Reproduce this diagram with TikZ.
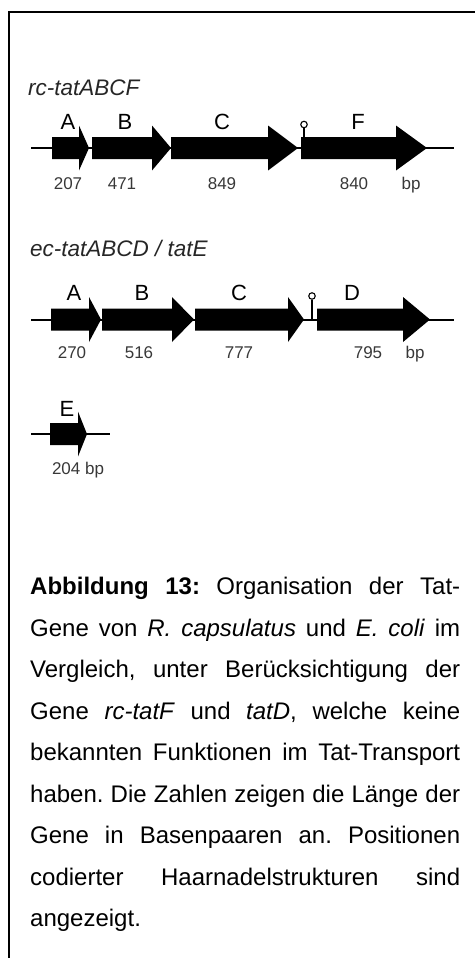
\documentclass[tikz,border=0pt]{standalone}
\usepackage{fontspec}
\setmainfont{Liberation Sans}
\newcommand{\genearrow}[5]{% #1 name, #2 body start, #3 head start, #4 tip, #5 axis y
  \fill[genefill] (#2,#5-11) -- (#3,#5-11) -- (#3,#5-22.5) -- (#4,#5) -- (#3,#5+22.5) -- (#3,#5+11) -- (#2,#5+11) -- cycle;
  \coordinate (#1) at (#2,#5);}
\begin{document}
\begin{tikzpicture}[x=1pt,y=-1pt,
  genefill/.style={fill=black},
  backbone/.style={line width=2pt},
  frame/.style={line width=2pt, line join=miter},
  glabel/.style={font=\fontsize{22}{22}\selectfont, inner sep=0pt, anchor=base},
  numlabel/.style={font=\fontsize{17}{17}\selectfont, text=black!78, inner sep=0pt, anchor=base},
  titlelabel/.style={font=\fontsize{22.5}{22.5}\selectfont\itshape, anchor=base west, inner sep=0pt, text=black!85},
  hairstem/.style={line width=1.3pt},
  hairloop/.style={line width=1.1pt, draw=black, fill=white}]
\useasboundingbox (0,0) rectangle (474,958);
\draw[frame] (9,958) -- (9,12) -- (475,12);

% ---------- row 1: rc-tatABCF ----------
\node[titlelabel] (t1) at (28,95) {rc-tatABCF};
\coordinate (r1s) at (31,148);
\coordinate (r1e) at (454,148);
\draw[backbone] (r1s) -- (r1e);
\genearrow{g1a}{52}{79}{89}{148}
\genearrow{g1b}{92}{152}{171}{148}
\genearrow{g1c}{171}{268}{298}{148}
\genearrow{g1f}{301}{396}{427}{148}
\coordinate (h1b) at (304,137);
\node[circle, hairloop, minimum size=6.5pt, inner sep=0pt] (h1) at (304,124.5) {};
\draw[hairstem] (h1b) -- (h1.south);
\node[glabel] (l1a) at (68,129) {A};
\node[glabel] (l1b) at (125,129) {B};
\node[glabel] (l1c) at (222,129) {C};
\node[glabel] (l1f) at (358,129) {F};
\node[numlabel] (n1a) at (68,189) {207};
\node[numlabel] (n1b) at (122,189) {471};
\node[numlabel] (n1c) at (222,189) {849};
\node[numlabel] (n1f) at (354,189) {840};
\node[numlabel] (n1bp) at (411,189) {bp};

% ---------- row 2: ec-tatABCD / tatE ----------
\node[titlelabel] (t2) at (30,256) {ec-tatABCD / tatE};
\coordinate (r2s) at (31,319.5);
\coordinate (r2e) at (454,319.5);
\draw[backbone] (r2s) -- (r2e);
\genearrow{g2a}{51}{89}{101}{319.5}
\genearrow{g2b}{102}{172}{194}{319.5}
\genearrow{g2c}{195}{288}{304}{319.5}
\genearrow{g2d}{317}{403}{430}{319.5}
\coordinate (h2b) at (312,319.5);
\node[circle, hairloop, minimum size=6.5pt, inner sep=0pt] (h2) at (312,296) {};
\draw[hairstem] (h2b) -- (h2.south);
\node[glabel] (l2a) at (74,300) {A};
\node[glabel] (l2b) at (142,300) {B};
\node[glabel] (l2c) at (239,300) {C};
\node[glabel] (l2d) at (352,300) {D};
\node[numlabel] (n2a) at (72,358) {270};
\node[numlabel] (n2b) at (139,358) {516};
\node[numlabel] (n2c) at (239,358) {777};
\node[numlabel] (n2d) at (368,358) {795};
\node[numlabel] (n2bp) at (415,358) {bp};

% ---------- row 3: tatE ----------
\coordinate (r3s) at (31,434);
\coordinate (r3e) at (110,434);
\draw[backbone] (r3s) -- (r3e);
\genearrow{g3e}{50}{78}{87}{434}
\node[glabel] (l3e) at (67,416) {E};
\node[numlabel] (n3e) at (78,474) {204 bp};

% ---------- caption ----------
\node[anchor=north west, inner sep=0pt, text width=430pt, align=justify,
      font=\fontsize{24}{41.5}\selectfont] (cap) at (30,577)
{\frenchspacing\hyphenpenalty=10000\tolerance=10000
\textbf{Abbildung 13:} Organisation der Tat-\linebreak
Gene von \textit{R. capsulatus} und \textit{E. coli} im\linebreak
Vergleich, unter Berücksichtigung der\linebreak
Gene \textit{rc-tatF} und \textit{tatD}, welche keine\linebreak
bekannten Funktionen im Tat-Transport\linebreak
haben. Die Zahlen zeigen die Länge der\linebreak
Gene in Basenpaaren an. Positionen\linebreak
codierter Haarnadelstrukturen sind\linebreak
angezeigt.};
\end{tikzpicture}
\end{document}
